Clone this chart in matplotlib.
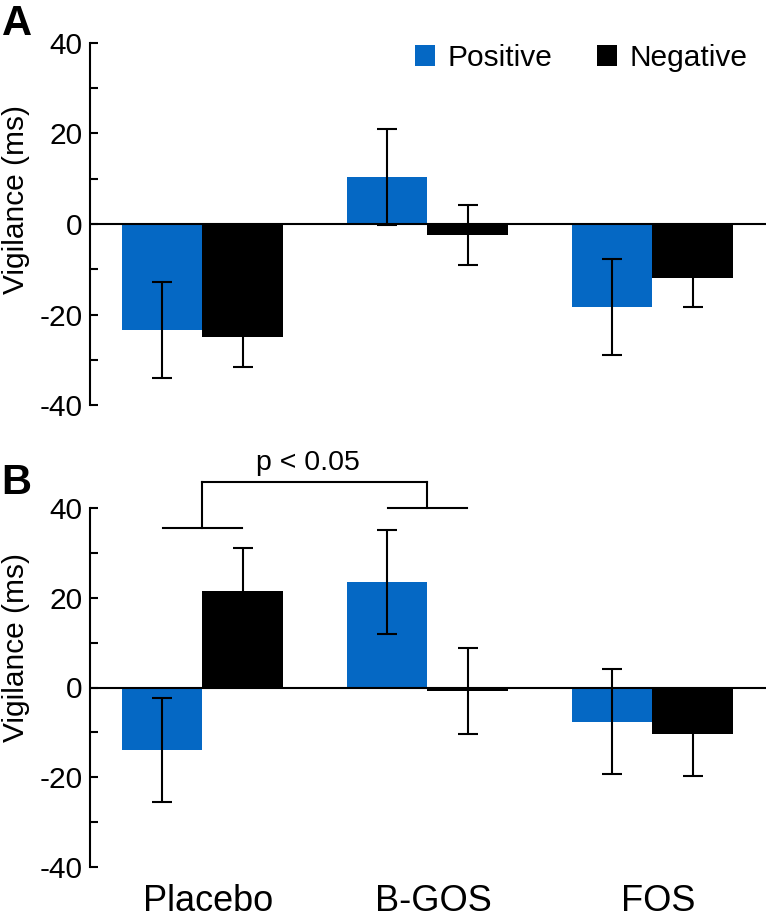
import numpy as np
import matplotlib
matplotlib.use('Agg')
import matplotlib.pyplot as plt
import matplotlib.transforms as mtransforms
from matplotlib.ticker import MultipleLocator

plt.rcParams['font.family'] = ['Liberation Sans', 'DejaVu Sans']
plt.rcParams['axes.unicode_minus'] = False

# Data (ms)
groups = ['Placebo', 'B-GOS', 'FOS']
series = ['Positive', 'Negative']

# Panel A
a_pos = [-23.5, 10.4, -18.3]
a_pos_err = [10.6, 10.6, 10.6]
a_neg = [-25.0, -2.4, -11.9]
a_neg_err = [6.6, 6.6, 6.5]

# Panel B
b_pos = [-14.0, 23.6, -7.6]
b_pos_err = [11.6, 11.6, 11.7]
b_neg = [21.4, -0.8, -10.3]
b_neg_err = [9.6, 9.5, 9.5]

blue = '#0568C4'
W, H = 767, 918
fig = plt.figure(figsize=(W / 100, H / 100), dpi=100)
fig.patch.set_facecolor('white')

ax_a = fig.add_axes([90 / W, 1 - 405 / H, 676 / W, 362 / H])
ax_b = fig.add_axes([90 / W, 1 - 867 / H, 676 / W, 359 / H])

x = np.arange(len(groups))
bw = 0.358


def draw_panel(ax, pos, pos_err, neg, neg_err):
    bp = ax.bar(x - bw / 2, pos, bw, color=blue, zorder=2, label=series[0])
    bn = ax.bar(x + bw / 2, neg, bw, color='black', zorder=2, label=series[1])
    ax.errorbar(x - bw / 2, pos, yerr=pos_err, fmt='none', ecolor='black',
                elinewidth=1.5, capsize=7, capthick=1.5, zorder=3)
    ax.errorbar(x + bw / 2, neg, yerr=neg_err, fmt='none', ecolor='black',
                elinewidth=1.5, capsize=7, capthick=1.5, zorder=3)
    ax.axhline(0, color='black', lw=1.5, zorder=4)
    ax.set_xlim(-0.5, 2.505)
    ax.set_ylim(-40, 40)
    for s in ['top', 'right', 'bottom']:
        ax.spines[s].set_visible(False)
    ax.spines['left'].set_linewidth(1.5)
    ax.yaxis.set_major_locator(MultipleLocator(20))
    ax.yaxis.set_minor_locator(MultipleLocator(10))
    ax.tick_params(axis='y', which='both', direction='in', length=6, width=1.5,
                   labelsize=21.5, pad=5.5)
    ax.tick_params(axis='x', length=0)
    return bp, bn


bp, bn = draw_panel(ax_a, a_pos, a_pos_err, a_neg, a_neg_err)
ax_a.set_xticks([])

draw_panel(ax_b, b_pos, b_pos_err, b_neg, b_neg_err)
ax_b.set_xticks(x)
ax_b.set_xticklabels(groups, fontsize=26)
ax_b.tick_params(axis='x', pad=12)
shift = mtransforms.ScaledTranslation(6 / 100, 0, fig.dpi_scale_trans)
for lab in ax_b.get_xticklabels():
    lab.set_transform(lab.get_transform() + shift)

# Legend
fig.legend(handles=[bp, bn], labels=series, loc='center left',
           bbox_to_anchor=(415 / W, 1 - 58 / H), bbox_transform=fig.transFigure,
           ncol=2, frameon=False, fontsize=21.5, handlelength=0.68,
           handleheight=0.68, handletextpad=0.4, columnspacing=1.5,
           borderpad=0, borderaxespad=0)

# Significance bracket (Placebo vs B-GOS)
kw = dict(color='black', lw=1.5, clip_on=False)
ax_b.plot([-0.175, 0.175], [35.6, 35.6], **kw)
ax_b.plot([0, 0], [35.6, 45.9], **kw)
ax_b.plot([0, 1], [45.9, 45.9], **kw)
ax_b.plot([1, 1], [45.9, 40.1], **kw)
ax_b.plot([1 - 0.175, 1 + 0.175], [40.1, 40.1], **kw)
ax_b.text(0.468, 48.5, 'p < 0.05', ha='center', va='baseline', fontsize=20.5)

# Y labels and panel letters
fig.text(16 / W, 1 - 200 / H, 'Vigilance (ms)', rotation=90, ha='center',
         va='center', fontsize=21.5)
fig.text(16 / W, 1 - 648 / H, 'Vigilance (ms)', rotation=90, ha='center',
         va='center', fontsize=21.5)
fig.text(2 / W, 1 - 35 / H, 'A', fontsize=30, fontweight='bold', va='baseline')
fig.text(1 / W, 1 - 494 / H, 'B', fontsize=30, fontweight='bold', va='baseline')

plt.savefig('out.png', dpi=100, facecolor='white')
plt.close()
